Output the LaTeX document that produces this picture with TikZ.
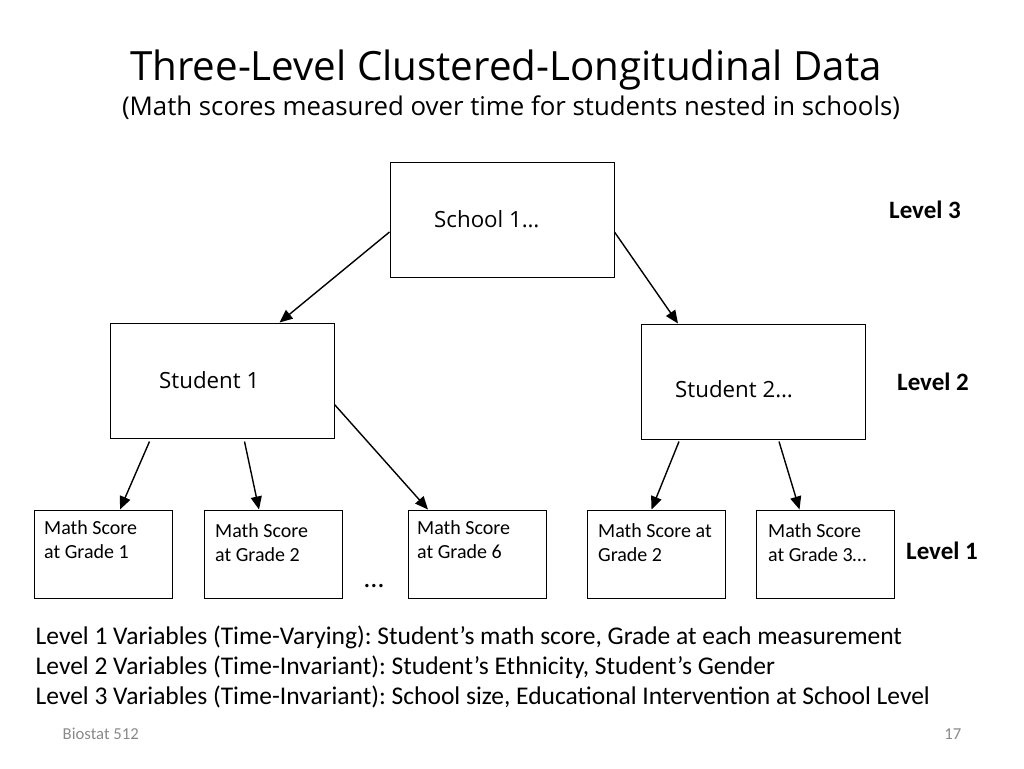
\documentclass[tikz,border=0pt]{standalone}
\usepackage{fontspec}
\setmainfont{Carlito}
\newfontfamily\titlefont{Open Sans}
\usetikzlibrary{positioning,calc,arrows.meta}
\usepackage{xcolor}
\definecolor{footgray}{RGB}{137,137,137}
\frenchspacing

\begin{document}
\begin{tikzpicture}[x=1pt,y=-1pt,>={Triangle[length=13pt,width=11pt]},line width=1.4pt,
    level box/.style={draw,line width=1pt,inner sep=0pt,minimum width=224pt,minimum height=115pt},
    score box/.style={draw,line width=1pt,inner sep=0pt,minimum width=138pt,minimum height=88pt},
    box text/.style={font=\titlefont\fontsize{22.3}{26}\selectfont,inner sep=0pt,anchor=west},
    score text/.style={font=\fontsize{20}{24}\selectfont,align=left,inner sep=0pt,anchor=north west},
    level label/.style={font=\bfseries\fontsize{25}{28}\selectfont,inner sep=0pt}]
    \useasboundingbox (0,0) rectangle (1024,768);
    % title
      \node[font=\titlefont\fontsize{40.3}{44}\selectfont] (title) at (506,70) {Three-Level Clustered-Longitudinal Data};
      \node[font=\titlefont\fontsize{25.8}{30}\selectfont] (subtitle) at (511,108) {(Math scores measured over time for students nested in schools)};
    % nodes
      \node[level box] (school) at (502,219.5) {};
      \node[level box] (st1) [below left = 45pt and 55pt of school] {};
      \node[level box] (st2) [below right = 46pt and 26pt of school] {};
      \node[score box] (m1) at (103,554) {};
      \node[score box] (m2) [right = 31pt of m1] {};
      \node[score box] (m6) [right = 65pt of m2] {};
      \node[score box] (m2b) [right = 40pt of m6] {};
      \node[score box] (m3) [right = 30pt of m2b] {};
    % texts
      \node[box text] (schooltxt) [right = 44pt of school.west] {School 1…};
      \node[box text] (st1txt) [right = 49pt of st1.west] {Student 1};
      \node[box text] (st2txt) [right = 34pt of st2.west, yshift=-7.5pt] {Student 2…};
      \node[score text] (m1txt) [below right = 10pt and 10pt of m1.north west] {Math Score\\at Grade 1};
      \node[score text] (m2txt) [below right = 13pt and 11pt of m2.north west] {Math Score\\at Grade 2};
      \node[score text] (m6txt) [below right = 10pt and 9pt of m6.north west] {Math Score\\at Grade 6};
      \node[score text] (m2btxt) [below right = 13pt and 11pt of m2b.north west] {Math Score at\\Grade 2};
      \node[score text] (m3txt) [below right = 13pt and 12pt of m3.north west] {Math Score\\at Grade 3…};
      \node[font=\fontsize{28}{30}\selectfont] (dots) at (374,586) {…};
      \node[level label] (lev3) at (925,210) {Level 3};
      \node[level label] (lev2) at (933,382) {Level 2};
      \node[level label] (lev1) at (942,551) {Level 1};
    % edges
      \draw[->] ([yshift=-12.5pt]school.west) -- ([xshift=57.5pt]st1.north);
      \draw[->] ([yshift=-12.5pt]school.east) -- ([xshift=-75pt]st2.north);
      \draw[->] ([xshift=-72.5pt,yshift=-3pt]st1.south) -- ([xshift=17pt]m1.north);
      \draw[->] ([xshift=22.5pt,yshift=-3pt]st1.south) -- ([xshift=-14pt]m2.north);
      \draw[->] ([yshift=-24pt]st1.east) -- ([xshift=-49pt]m6.north);
      \draw[->] ([xshift=-74pt,yshift=-2pt]st2.south) -- ([xshift=-4.5pt]m2b.north);
      \draw[->] ([xshift=26pt,yshift=-2pt]st2.south) -- ([xshift=-25.5pt]m3.north);
    % variables and footer
      \node[font=\fontsize{25.5}{30}\selectfont,align=left,anchor=west,inner sep=0pt] (vars) at (35,667)
        {Level 1 Variables (Time-Varying): Student’s math score, Grade at each measurement\\
         Level 2 Variables (Time-Invariant): Student’s Ethnicity, Student’s Gender\\
         Level 3 Variables (Time-Invariant): School size, Educational Intervention at School Level};
      \node[font=\fontsize{16.7}{19}\selectfont,text=footgray,anchor=west,inner sep=0pt] (foot) at (62,734) {Biostat 512};
      \node[font=\fontsize{16.7}{19}\selectfont,text=footgray,anchor=east,inner sep=0pt] (page) at (962,734) {17};
\end{tikzpicture}
\end{document}
